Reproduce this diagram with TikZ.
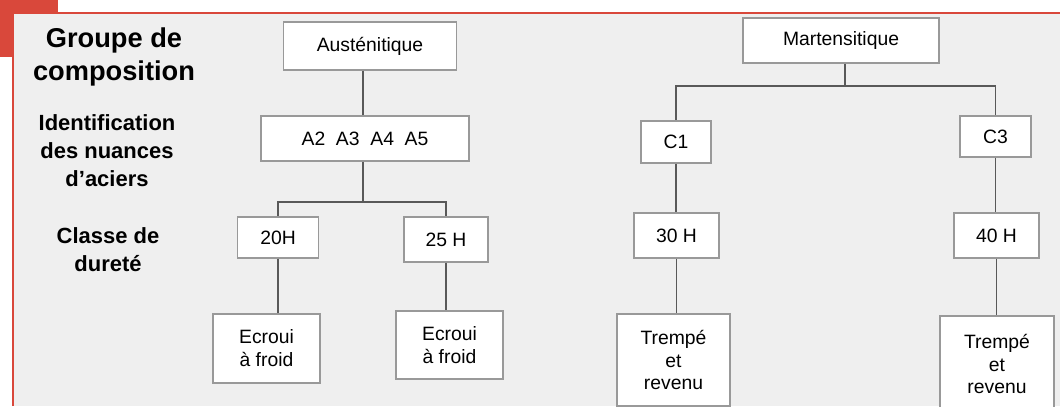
\documentclass[tikz,border=0pt]{standalone}
\usepackage{fontspec}
\setmainfont{Liberation Sans}
\usepackage{tikz}
\usetikzlibrary{calc}

\definecolor{frame}{HTML}{D9483B}
\definecolor{panel}{HTML}{EFEFEF}

\begin{document}
\begin{tikzpicture}[x=0.02cm, y=-0.02cm]

% Styles
\tikzset{
  box/.style={draw=gray!80, fill=white, line width=0.6pt, align=center,
    inner sep=0pt, font=\fontsize{11}{13}\selectfont},
  link/.style={draw=black!65, line width=0.6pt},
  level/.style={align=center, font=\fontsize{12.5}{16}\selectfont\bfseries}
}

% Background and frame
\useasboundingbox (0,0) rectangle (1060,406);
\fill[white] (0,0) rectangle (1060,406);
\fill[frame] (0,0) rectangle (58,57);
\fill[panel] (13,13) rectangle (1060,406);
\draw[frame, line width=1.6pt] (13,406) -- (13,13) -- (1060,13);

% Row labels
\node[level, font=\fontsize{15.5}{19}\selectfont\bfseries] (lgroup) at (114,57) {Groupe de\\composition};
\node[level] (lnuance) at (107,151) {Identification\\des nuances\\d’aciers};
\node[level] (ldurete) at (108,250) {Classe de\\dureté};

% Austenitic branch
\node[box, minimum width=173*0.02cm, minimum height=48*0.02cm] (aus) at (370,46) {Austénitique};
\node[box, minimum width=208*0.02cm, minimum height=45*0.02cm] (anum) at (365,138.5) {A2\ \ A3\ \ A4\ \ A5};
\node[box, minimum width=81*0.02cm, minimum height=41*0.02cm] (h20) at (278,237.5) {20H};
\node[box, minimum width=84*0.02cm, minimum height=45*0.02cm] (h25) at (446,239.5) {25 H};
\node[box, minimum width=107*0.02cm, minimum height=69*0.02cm] (ecr1) at (266.5,348.5) {Ecroui\\à froid};
\node[box, minimum width=107*0.02cm, minimum height=68*0.02cm] (ecr2) at (449.5,345) {Ecroui\\à froid};

% Martensitic branch
\node[box, minimum width=196*0.02cm, minimum height=45*0.02cm] (mar) at (841,40.5) {Martensitique};
\node[box, minimum width=70*0.02cm, minimum height=42*0.02cm] (c1) at (676,142) {C1};
\node[box, minimum width=71*0.02cm, minimum height=41*0.02cm] (c3) at (995.5,136.5) {C3};
\node[box, minimum width=85*0.02cm, minimum height=45*0.02cm] (h30) at (676.5,235.5) {30 H};
\node[box, minimum width=85*0.02cm, minimum height=45*0.02cm] (h40) at (996.5,235.5) {40 H};
\node[box, minimum width=113*0.02cm, minimum height=92*0.02cm] (tr1) at (673.5,360) {Trempé\\et\\revenu};
\node[box, minimum width=114*0.02cm, minimum height=96*0.02cm] (tr2) at (997,364) {Trempé\\et\\revenu};

% Junctions
\coordinate (ja) at (363,202);
\coordinate (jm) at (845,86);

% Links
\draw[link] (aus.south -| ja) -- (anum.north -| ja);
\draw[link] (anum.south -| ja) -- (ja);
\draw[link] (ja) -| (h20.north);
\draw[link] (ja) -| (h25.north);
\draw[link] (h20.south) -- (h20.south |- ecr1.north);
\draw[link] (h25.south) -- (h25.south |- ecr2.north);

\draw[link] (mar.south -| jm) -- (jm);
\draw[link] (jm) -| (c1.north);
\draw[link] (jm) -| (c3.north);
\draw[link] (c1.south) -- (c1.south |- h30.north);
\draw[link] (c3.south) -- (c3.south |- h40.north);
\draw[link] (h30.south) -- (h30.south |- tr1.north);
\draw[link] (h40.south) -- (h40.south |- tr2.north);

\end{tikzpicture}
\end{document}
